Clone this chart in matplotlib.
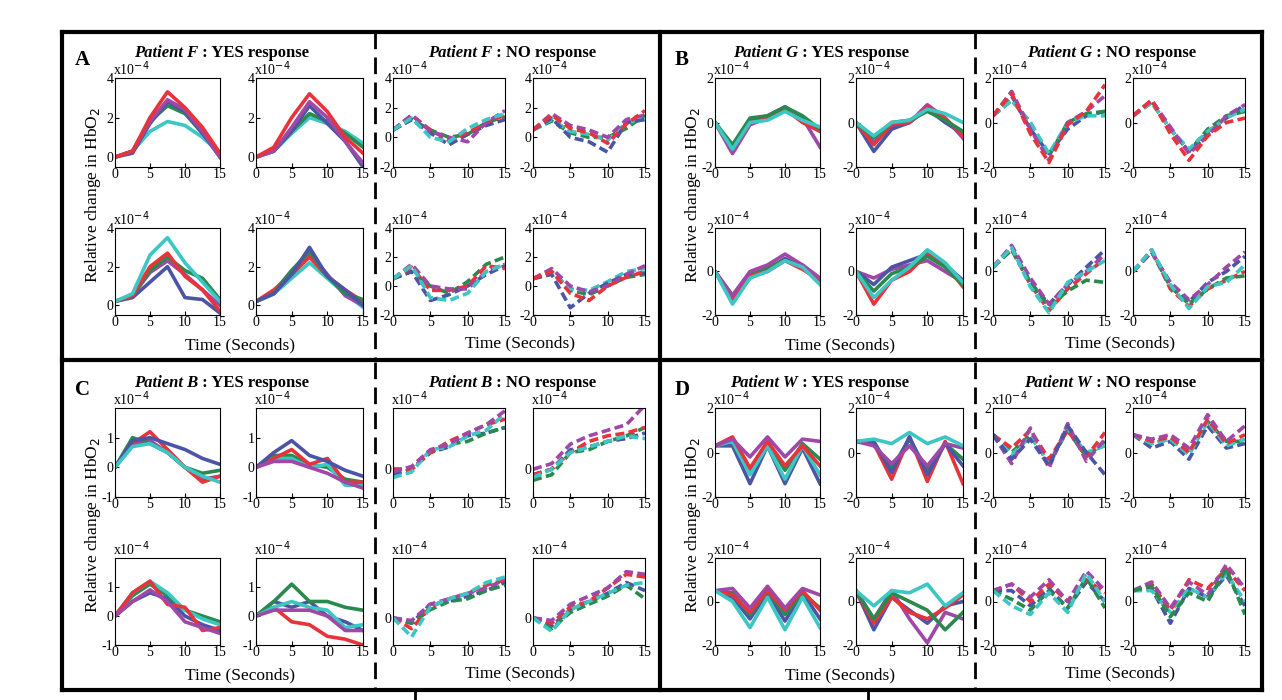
import matplotlib
matplotlib.use("Agg")
import matplotlib.pyplot as plt
from matplotlib.lines import Line2D

plt.rcParams['font.family'] = ['Liberation Serif', 'DejaVu Serif']
plt.rcParams['axes.unicode_minus'] = False
t = [0, 2.5, 5, 7.5, 10, 12.5, 15]
COL = {'red': '#e8333a', 'blue': '#4b55a5', 'green': '#2a8a4e', 'cyan': '#3cc6c4', 'purple': '#a047a8'}

A_yes = [
 dict(cyan=[0,0.3,1.3,1.8,1.6,1,0.2], green=[0,0.3,1.8,2.6,2.2,1.2,0.2], blue=[0,0.2,1.7,2.8,2.3,1.2,0], purple=[0,0.3,1.8,2.9,2.4,1.3,0], red=[0,0.3,2,3.3,2.5,1.5,0.2]),
 dict(cyan=[0,0.3,1.2,2,1.7,1.3,0.7], green=[0,0.4,1.3,2.2,1.8,1.2,0.5], blue=[0,0.3,1.3,2.6,1.7,0.8,-0.5], purple=[0,0.3,1.5,2.8,2,0.8,-0.3], red=[0,0.5,2,3.2,2.3,1,0.2]),
 dict(blue=[0.2,0.4,1.2,2,0.4,0.3,-0.4], purple=[0.2,0.5,1.7,2.3,1.6,0.8,0], green=[0.2,0.5,1.8,2.5,1.8,1.4,0.3], red=[0.2,0.5,2,2.7,1.5,0.8,-0.3], cyan=[0.2,0.6,2.6,3.5,2.2,1.2,0.2]),
 dict(cyan=[0.2,0.6,1.4,2.2,1.4,0.6,-0.1], purple=[0.2,0.7,1.8,2.7,1.6,0.5,0], red=[0.2,0.8,1.6,2.5,1.5,0.8,0.2], green=[0.2,0.6,1.8,2.8,1.5,0.6,0.3], blue=[0.2,0.6,1.6,3,1.5,0.8,0]),
]
A_no = [
 dict(green=[0.5,1.2,0.5,0,0.2,1,1.4], blue=[0.5,1.2,0.3,-0.5,0.2,0.8,1.2], red=[0.5,1.5,0.5,-0.2,0.3,1,1.5], purple=[0.5,1.5,0.4,0,-0.3,1,1.8], cyan=[0.5,1.3,0,-0.3,0.6,1.2,1.6]),
 dict(green=[0.5,1.1,0.3,0,0,0.6,1.5], cyan=[0.5,1.2,0.4,0.2,-0.2,1,1.2], blue=[0.5,1.3,0,-0.3,-1,1,1.2], purple=[0.5,1.6,0.8,0.5,0,1.2,1.5], red=[0.5,1.5,0.6,0.3,-0.4,0.9,1.8]),
 dict(green=[0.5,1,0,-0.5,0.3,1.5,2], blue=[0.5,1,-1,-0.6,0,0.8,1.4], red=[0.5,1.3,-0.3,-0.3,0,1.4,1.2], purple=[0.5,1.5,0,-0.2,-0.2,1,1.5], cyan=[0.5,1.4,-0.8,-1,-0.5,1,1.5]),
 dict(green=[0.5,1,-0.3,-0.6,0,0.6,0.8], cyan=[0.5,1,-0.2,-0.3,0.3,1,1.2], blue=[0.5,0.8,-1.5,-0.5,0.2,0.8,0.9], purple=[0.5,1.2,0,-0.4,0,0.8,1.4], red=[0.5,1,-0.5,-1,0,0.6,1]),
]
B_yes = [
 dict(purple=[0,-1.4,-0.1,0.2,0.7,0.2,-1.1], blue=[0,-1.1,0.1,0.3,0.7,0.2,-0.3], red=[0,-1.2,0,0.2,0.6,0,-0.4], green=[0,-1,0.2,0.3,0.7,0.3,-0.3], cyan=[0,-1.2,0,0.1,0.5,0.1,-0.2]),
 dict(purple=[0,-0.9,-0.2,0,0.8,0.2,-0.7], blue=[0,-1.3,-0.3,0,0.6,0,-0.5], red=[0,-1,-0.1,0,0.7,0.2,-0.6], green=[0,-0.7,0,0.1,0.5,0.1,-0.4], cyan=[0,-0.6,0,0.1,0.6,0.4,0]),
 dict(blue=[0,-1.3,-0.3,0.1,0.6,0.2,-0.5], green=[0,-1.1,-0.1,0.2,0.5,0.3,-0.4], red=[0,-1.2,-0.2,0,0.5,0.1,-0.4], purple=[0,-1.1,0,0.3,0.8,0.3,-0.3], cyan=[0,-1.5,-0.3,0,0.5,0.2,-0.6]),
 dict(purple=[0,-0.3,0.1,0.3,0.5,0,-0.5], blue=[0,-0.6,0.2,0.5,0.8,0.3,-0.4], red=[0,-1.5,-0.4,0,0.8,0.3,-0.7], green=[0,-0.9,-0.1,0.2,0.7,0.2,-0.6], cyan=[0,-1.2,-0.4,0.2,1,0.4,-0.5]),
]
B_no = [
 dict(blue=[0.3,1.2,-0.3,-1.4,-0.3,0.3,0.5], green=[0.3,1,0,-1.5,0,0.4,0.5], cyan=[0.3,1,0,-1.4,0,0.3,0.3], purple=[0.3,1.4,-0.3,-1.7,0,0.5,1.2], red=[0.3,1.3,-0.5,-1.8,-0.1,0.5,1.7]),
 dict(blue=[0.3,1,-0.3,-1.3,-0.5,0.2,0.8], green=[0.3,0.9,-0.3,-1.3,-0.3,0.3,0.5], cyan=[0.3,0.9,-0.3,-1.2,-0.4,0.2,0.6], purple=[0.3,1,-0.2,-1.4,-0.6,0.3,0.8], red=[0.3,1,-0.5,-1.7,-0.6,0,0.2]),
 dict(red=[0.2,1,-0.6,-1.8,-0.8,-0.1,0.6], blue=[0.2,1.1,-0.5,-1.5,-0.6,0.2,1], green=[0.2,1,-0.5,-1.6,-0.9,-0.4,-0.5], purple=[0.2,1.2,-0.3,-1.5,-0.6,0,0.8], cyan=[0.2,1.1,-0.7,-1.9,-0.5,0,0.5]),
 dict(red=[0,1,-0.8,-1.6,-0.8,-0.4,0], blue=[0,0.9,-0.6,-1.4,-0.5,0,0.7], green=[0,0.9,-0.7,-1.5,-0.8,-0.3,-0.2], purple=[0,0.9,-0.5,-1.3,-0.6,0.2,0.9], cyan=[0,1,-0.6,-1.7,-0.7,-0.5,0.3]),
]
C_yes = [
 dict(purple=[0,0.8,0.9,0.5,0,-0.4,-0.3], green=[0,1,0.8,0.5,0,-0.2,-0.1], red=[0,0.8,1.2,0.6,0,-0.5,-0.3], blue=[0,0.9,1,0.8,0.6,0.3,0.1], cyan=[0,0.7,0.8,0.5,0,-0.3,-0.5]),
 dict(green=[0,0.4,0.4,0.1,0,-0.4,-0.5], cyan=[0,0.3,0.3,0,0.1,-0.6,-0.6], red=[0,0.3,0.6,0.1,0.3,-0.5,-0.5], blue=[0,0.5,0.9,0.4,0.2,-0.1,-0.3], purple=[0,0.2,0.2,0,-0.2,-0.5,-0.7]),
 dict(blue=[0,0.5,0.8,0.6,0,-0.3,-0.5], green=[0,0.7,1.1,0.7,0.2,0,-0.2], cyan=[0,0.8,1.2,0.8,0.2,-0.1,-0.3], red=[0,0.8,1.2,0.4,0.3,-0.5,-0.4], purple=[0,0.5,0.9,0.5,-0.2,-0.4,-0.6]),
 dict(red=[0,0.3,-0.2,-0.3,-0.7,-0.8,-1], blue=[0,0.5,0.3,0.5,0,-0.2,-0.5], green=[0,0.5,1.1,0.5,0.5,0.3,0.2], cyan=[0,0.3,0.5,0.3,0.2,-0.4,-0.3], purple=[0,0.2,0.2,0.2,0,-0.5,-0.5]),
]
C_no = [
 dict(blue=[-0.2,0,0.6,0.8,1.2,1.3,1.5], green=[0,0,0.6,0.9,1,1.3,1.5], red=[0,0,0.6,1,1.3,1.6,1.8], cyan=[-0.3,-0.1,0.7,0.8,1.2,1.4,2], purple=[-0.1,0.1,0.7,0.9,1.3,1.6,2.1]),
 dict(blue=[-0.2,0,0.7,0.8,1,1.1,1.3], green=[-0.4,-0.2,0.6,0.7,1,1.2,1.5], red=[-0.2,0,0.6,1,1.2,1.3,1.5], cyan=[-0.3,0,0.6,0.8,1,1.2,1.1], purple=[0,0.2,0.9,1.2,1.4,1.6,2.3]),
 dict(blue=[0,-0.2,0.5,0.6,0.8,1,1.3], green=[0,-0.2,0.3,0.6,0.7,1,1.2], red=[0,-0.4,0.4,0.7,0.9,1.2,1.4], purple=[0,-0.1,0.5,0.7,0.9,1.1,1.4], cyan=[0,-0.7,0.4,0.7,0.9,1.3,1.5]),
 dict(blue=[0,-0.3,0.3,0.6,0.9,1.3,1], green=[0,-0.4,0.2,0.5,0.8,1.2,0.7], red=[0,-0.2,0.4,0.6,1.1,1.6,1.5], purple=[0,-0.1,0.5,0.8,1.1,1.7,1.6], cyan=[0,-0.5,0.3,0.6,0.9,1.2,1.3]),
]
D_yes = [
 dict(blue=[0.3,0.3,-1.4,0.3,-1.4,0.2,-1.4], green=[0.3,0.5,-0.8,0.5,-0.8,0.4,-0.3], cyan=[0.3,0.5,-1,0.3,-1.2,0.3,-1], red=[0.3,0.7,-0.7,0.5,-0.6,0.3,-0.6], purple=[0.3,0.6,-0.2,0.7,-0.2,0.6,0.5]),
 dict(red=[0.5,0.4,-1.2,0.7,-1.3,0.5,-1.4], green=[0.5,0.4,-0.7,0.6,-0.8,0.4,-0.3], blue=[0.5,0.5,-0.9,0.7,-1,0.4,-0.6], purple=[0.5,0.3,-0.5,0.3,-0.6,0.4,0.2], cyan=[0.5,0.6,0.4,0.9,0.4,0.7,0.3]),
 dict(blue=[0.5,0.2,-0.8,0.4,-0.9,0.4,-0.8], green=[0.5,0.4,-0.6,0.5,-0.6,0.4,-0.3], red=[0.5,0.3,-0.5,0.5,-0.4,0.5,-0.4], purple=[0.5,0.6,-0.3,0.7,-0.3,0.6,0.3], cyan=[0.5,0,-1.2,0.2,-1.3,0.2,-1.2]),
 dict(blue=[0.5,-1.3,0.2,-0.4,-1,-0.2,0], purple=[0.5,-0.8,0.5,-0.8,-1.9,-0.5,-0.8], red=[0.5,-1,0.2,-0.5,-0.8,-0.3,0.3], green=[0.5,-0.8,0.4,0,-0.4,-1.3,-0.5], cyan=[0.5,-0.2,0.5,0.4,0.8,-0.2,0.4]),
]
D_no = [
 dict(green=[0.8,0,0.8,-0.5,1,-0.2,0.5], cyan=[0.8,-0.1,0.7,-0.4,1,0,0.3], red=[0.8,0.2,1,-0.3,1,-0.2,0.9], purple=[0.8,-0.5,1.1,-0.7,1.3,-0.4,0.6], blue=[0.8,-0.3,0.6,-0.6,1.2,0,-1]),
 dict(blue=[0.8,0.2,0.5,-0.3,1.2,0.2,0.4], green=[0.8,0.4,0.6,0,1.4,0.5,0.5], cyan=[0.8,0.4,0.6,-0.1,1.4,0.3,0.6], red=[0.8,0.5,0.7,0,1.5,0.4,0.8], purple=[0.8,0.6,0.8,0.2,1.7,0.5,1.2]),
 dict(blue=[0.5,0.5,-0.2,0.6,-0.3,0.9,0], red=[0.5,0.8,0,0.8,0,1,0.4], purple=[0.5,0.8,0.2,1,0,1.4,0.5], green=[0.5,0.1,-0.4,0.5,-0.3,1.1,-0.3], cyan=[0.5,-0.2,-0.6,0.4,-0.5,1.3,0]),
 dict(blue=[0.5,0.6,-1,0.6,0.2,1.2,-0.2], cyan=[0.5,0.5,-0.5,0.6,0.2,1.3,0], red=[0.5,0.8,-0.4,1,0.6,1.5,0.5], purple=[0.5,0.9,-0.3,0.9,0.3,1.7,0.6], green=[0.5,0.7,-0.7,0.4,0,1.5,-0.6]),
]

W, H = 1282, 700
fig = plt.figure(figsize=(W/100, H/100), dpi=100)

def add_ax(x0, y0, x1, y1):
    return fig.add_axes([x0/W, 1-y1/H, (x1-x0)/W, (y1-y0)/H])

def draw(ax, d, dashed, ylim, yticks):
    for k, v in d.items():
        if dashed:
            ax.plot(t, v, color=COL[k], lw=2.6, ls=(0, (2.5, 1.2)))
        else:
            ax.plot(t, v, color=COL[k], lw=2.6)
    ax.set_xlim(0, 15); ax.set_ylim(*ylim)
    ax.set_xticks([0, 5, 10, 15]); ax.set_yticks(yticks)
    ax.tick_params(labelsize=10, length=3, pad=1, direction='in')
    ax.text(-0.02, 1.0, r'x10$^{-4}$', transform=ax.transAxes, fontsize=10, ha='left', va='bottom')

def title(x, y, pat, rest):
    fig.text(x/W, 1-y/H, pat, fontsize=12, fontweight='bold', style='italic', ha='right', va='center')
    fig.text(x/W, 1-y/H, rest, fontsize=12, fontweight='bold', ha='left', va='center')

panels = [
    (0, 0, A_yes, A_no, (-0.5, 4), [0, 2, 4], (-2, 4), [-2, 0, 2, 4], 'A', 'F'),
    (600, 0, B_yes, B_no, (-2, 2), [-2, 0, 2], (-2, 2), [-2, 0, 2], 'B', 'G'),
    (0, 330, C_yes, C_no, (-1, 2), [-1, 0, 1], (-1, 2.2), [0], 'C', 'B'),
    (600, 330, D_yes, D_no, (-2, 2), [-2, 0, 2], (-2, 2), [-2, 0, 2], 'D', 'W'),
]
cols = [(115, 220), (256, 363), (393, 505), (533, 645)]
rows = [(78, 167), (228, 315)]
for xo, yo, yes, no, yl, yt, nl, nt, letter, pat in panels:
    for r in range(2):
        for c in range(2):
            x0, x1 = cols[c]; y0, y1 = rows[r]
            draw(add_ax(x0+xo, y0+yo, x1+xo, y1+yo), yes[r*2+c], False, yl, yt)
            x0, x1 = cols[c+2]
            draw(add_ax(x0+xo, y0+yo, x1+xo, y1+yo), no[r*2+c], True, nl, nt)
    fig.text((75+xo)/W, 1-(60+yo)/H, letter, fontsize=15, fontweight='bold', va='center')
    title(198+xo, 53+yo, 'Patient ' + pat, ' : YES response')
    title(492+xo, 53+yo, 'Patient ' + pat, ' : NO response')
    fig.text((93+xo)/W, 1-(195+yo)/H, r'Relative change in HbO$_2$', rotation=90, fontsize=12.5, ha='center', va='center')
    fig.text((240+xo)/W, 1-(345+yo)/H, 'Time (Seconds)', fontsize=12.5, ha='center', va='center')
    fig.text((520+xo)/W, 1-(343+yo)/H, 'Time (Seconds)', fontsize=12.5, ha='center', va='center')
    fig.add_artist(Line2D([(375+xo)/W]*2, [1-(32+yo)/H, 1-(360+yo)/H], color='k', lw=2, ls=(0, (6, 3))))

def L(x, y, lw=3):
    fig.add_artist(Line2D([a/W for a in x], [1-b/H for b in y], color='k', lw=lw))
L([62, 1262], [32, 32]); L([62, 1262], [360, 360]); L([62, 1262], [690, 690])
L([62, 62], [32, 690]); L([660, 660], [32, 690]); L([1262, 1262], [32, 690])
L([415, 415], [690, 700], 2); L([868, 868], [690, 700], 2)
fig.savefig('out.png', dpi=100)
